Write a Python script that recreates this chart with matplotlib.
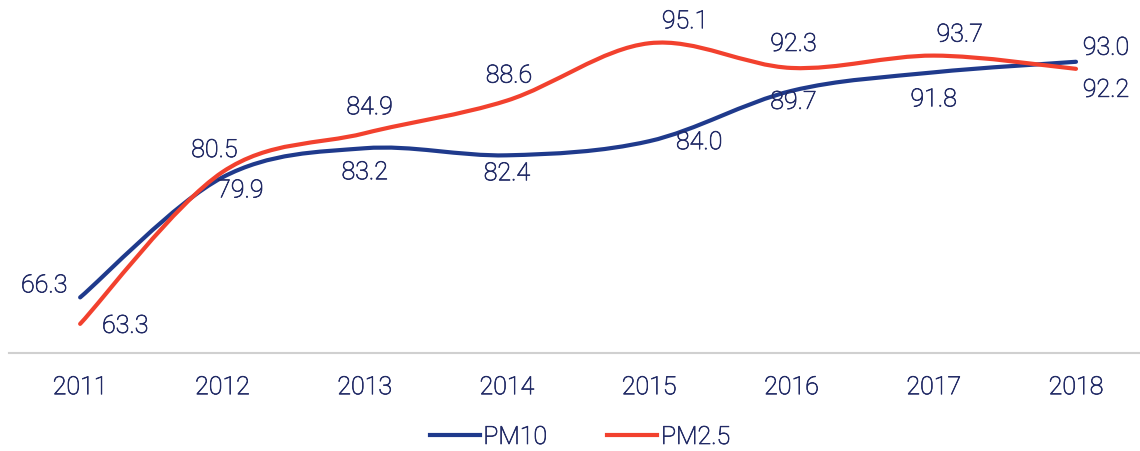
import matplotlib.pyplot as plt
import matplotlib.patheffects as pe
from matplotlib.path import Path
from matplotlib.patches import PathPatch
from matplotlib.lines import Line2D

years = ["2011", "2012", "2013", "2014", "2015", "2016", "2017", "2018"]
pm10 = [66.3, 79.9, 83.2, 82.4, 84.0, 89.7, 91.8, 93.0]
pm25 = [63.3, 80.5, 84.9, 88.6, 95.1, 92.3, 93.7, 92.2]

navy = "#1f3a8c"
red = "#f2412e"
txt = "#222b66"

plt.rcParams['font.family'] = ['Roboto', 'DejaVu Sans']
# un peu plus épais que Roboto Light
epais = [pe.withStroke(linewidth=0.5, foreground=txt)]


def smooth_path(ys):
    # courbe lissée (type Excel) avec des béziers cubiques
    xs = list(range(len(ys)))
    pts = list(zip(xs, ys))
    verts = [pts[0]]
    codes = [Path.MOVETO]
    n = len(pts)
    for i in range(n - 1):
        p0 = pts[i - 1] if i > 0 else pts[i]
        p1 = pts[i]
        p2 = pts[i + 1]
        p3 = pts[i + 2] if i + 2 < n else pts[i + 1]
        c1 = (p1[0] + (p2[0] - p0[0]) / 6, p1[1] + (p2[1] - p0[1]) / 6)
        c2 = (p2[0] - (p3[0] - p1[0]) / 6, p2[1] - (p3[1] - p1[1]) / 6)
        verts += [c1, c2, p2]
        codes += [Path.CURVE4] * 3
    return Path(verts, codes)


fig = plt.figure(figsize=(11.4, 4.51), dpi=100)
ax = fig.add_axes([9 / 1140, 98 / 451, 1 - 9 / 1140, 353 / 451])

for vals, col in [(pm10, navy), (pm25, red)]:
    ax.add_patch(PathPatch(smooth_path(vals), fill=False, edgecolor=col,
                           lw=3, capstyle='round', joinstyle='round'))

# décalages des étiquettes (pixels)
off10 = [(-36, 12), (18, -13), (0, -24), (0, -18), (50, -1), (2, -11), (0, -27), (30, 14)]
off25 = [(45, -2), (-8, 22), (5, 26), (2, 25), (36, 22), (2, 24), (26, 21), (30, -21)]

for i in range(len(years)):
    ax.annotate(f"{pm10[i]:.1f}", (i, pm10[i]), xytext=off10[i], textcoords='offset pixels',
                ha='center', va='center', fontsize=18, color=txt, fontweight='light',
                path_effects=epais)
    ax.annotate(f"{pm25[i]:.1f}", (i, pm25[i]), xytext=off25[i], textcoords='offset pixels',
                ha='center', va='center', fontsize=18, color=txt, fontweight='light',
                path_effects=epais)

ax.set_xlim(-0.5, 7.45)
ax.set_ylim(60, 100)
ax.set_xticks(range(len(years)))
ax.set_xticklabels(years, fontsize=18, color=txt, fontweight='light')
for t in ax.get_xticklabels():
    t.set_path_effects(epais)
ax.tick_params(axis='x', length=0, pad=16)
ax.set_yticks([])
for s in ['top', 'right', 'left']:
    ax.spines[s].set_visible(False)
ax.spines['bottom'].set_color('#d0d0d0')
ax.spines['bottom'].set_linewidth(1.5)

handles = [Line2D([], [], color=navy, lw=3), Line2D([], [], color=red, lw=3)]
leg = fig.legend(handles, ["PM10", "PM2.5"], loc='center', bbox_to_anchor=(580 / 1140, 1 - 437 / 451),
                 ncol=2, frameon=False, handlelength=2.0, handletextpad=0.15, columnspacing=2.4,
                 prop={'size': 18, 'weight': 'light'}, labelcolor=txt)
for t in leg.get_texts():
    t.set_path_effects(epais)

fig.savefig("out.png", dpi=100)
